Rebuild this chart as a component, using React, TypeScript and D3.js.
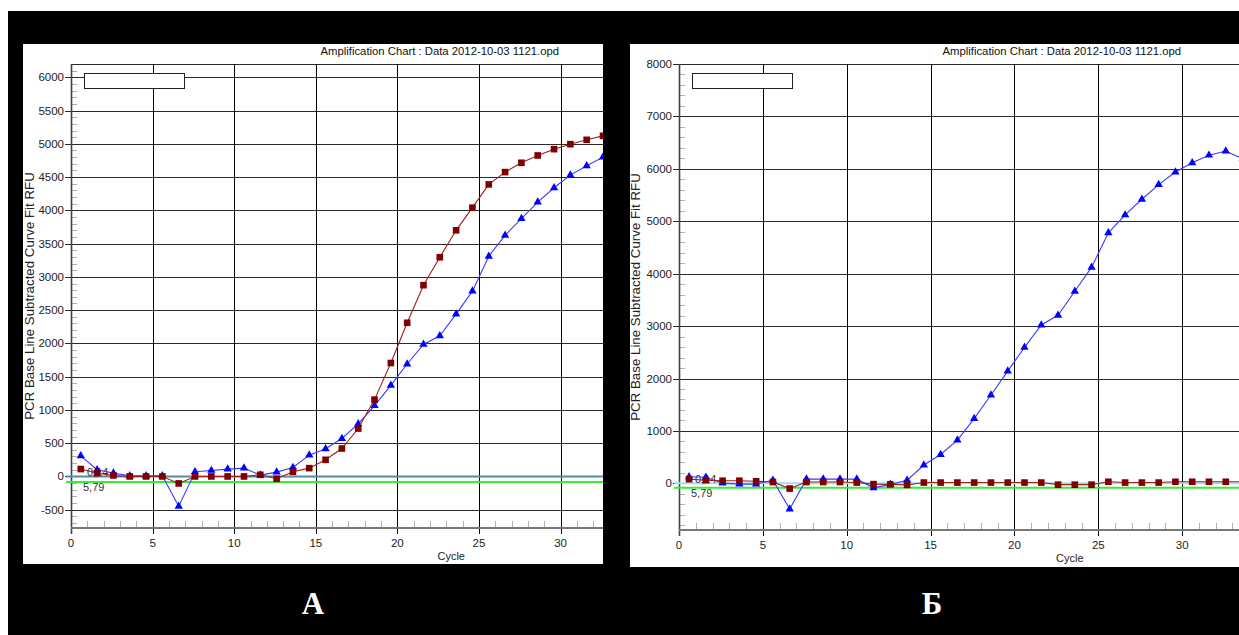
import React, { useEffect, useRef } from 'react';
import * as d3 from 'd3';

// cycle positions of the plotted readings
const cycles = [
  0.6, 1.6, 2.6, 3.6, 4.6, 5.6, 6.6, 7.6, 8.6, 9.6, 10.6, 11.6, 12.6, 13.6, 14.6, 15.6, 16.6,
  17.6, 18.6, 19.6, 20.6, 21.6, 22.6, 23.6, 24.6, 25.6, 26.6, 27.6, 28.6, 29.6, 30.6, 31.6, 32.6,
];
const cyclesB = [
  0.6, 1.6, 2.6, 3.6, 4.6, 5.6, 6.6, 7.6, 8.6, 9.6, 10.6, 11.6, 12.6, 13.6, 14.6, 15.6, 16.6,
  17.6, 18.6, 19.6, 20.6, 21.6, 22.6, 23.6, 24.6, 25.6, 26.6, 27.6, 28.6, 29.6, 30.6, 31.6, 32.6, 33.6,
];

// panel A (RFU)
const redA = [
  111, 50, 15, 0, 0, 0, -105, 0, 0, 0, 0, 25, -35, 70, 125, 250, 420, 720, 1155, 1705, 2310,
  2875, 3295, 3700, 4040, 4390, 4575, 4715, 4825, 4920, 4995, 5060, 5120,
];
const blueA = [
  310, 100, 50, 10, 10, 10, -450, 70, 90, 110, 125, 20, 65, 135, 320, 415, 570, 790, 1065, 1370,
  1690, 1985, 2115, 2440, 2785, 3310, 3625, 3875, 4125, 4340, 4530, 4670, 4800,
];

// panel B (RFU)
const redB = [
  80, 60, 50, 50, 40, 25, -100, 25, 25, 25, 15, -15, -20, -30, 15, 15, 15, 15, 15, 15, 15, 15,
  -25, -25, -25, 30, 15, 15, 15, 30, 30, 30, 30, 30,
];
const blueB = [
  125, 115, 5, -15, -15, 60, -490, 80, 80, 80, 80, -85, -20, 60, 350, 550, 825, 1235, 1685, 2140,
  2595, 3020, 3205, 3665, 4120, 4780, 5120, 5420, 5700, 5940, 6115, 6260, 6340, 6190,
];

const yTicksA = [-500, 0, 500, 1000, 1500, 2000, 2500, 3000, 3500, 4000, 4500, 5000, 5500, 6000];
const yTicksB = [0, 1000, 2000, 3000, 4000, 5000, 6000, 7000, 8000];
const xTicks = [0, 5, 10, 15, 20, 25, 30];

const threshold = -84;
const thresholdLabels = ['0,14', '5,79'];
const title = 'Amplification Chart : Data 2012-10-03 1121.opd';
const yLabel = 'PCR Base Line Subtracted Curve Fit RFU';
const xLabel = 'Cycle';

const font = '"Liberation Sans", Arial, sans-serif';

const panels = [
  {
    key: 'a',
    box: { x: 23, y: 44, w: 580, h: 520 },
    plot: { left: 71, right: 603, top: 64, bottom: 528 },
    xMax: 32.6,
    yDomain: [-775, 6200],
    yTicks: yTicksA,
    yMinor: 100,
    red: redA,
    blue: blueA,
    xs: cycles,
    zeroColor: '#4f8ea3',
    titleEnd: 559,
    yLabelX: 34,
    caption: 'А',
    captionX: 313,
  },
  {
    key: 'b',
    box: { x: 630, y: 44, w: 609, h: 523 },
    plot: { left: 679, right: 1239, top: 64, bottom: 530 },
    xMax: 33.39,
    yDomain: [-890, 8000],
    yTicks: yTicksB,
    yMinor: 200,
    red: redB,
    blue: blueB,
    xs: cyclesB,
    zeroColor: '#a8d8ea',
    titleEnd: 1181,
    yLabelX: 639.5,
    caption: 'Б',
    captionX: 932,
  },
];

function drawPanel(svg, p) {
  const { left, right, top, bottom } = p.plot;

  svg
    .append('clipPath')
    .attr('id', `clip-${p.key}`)
    .append('rect')
    .attr('x', p.box.x)
    .attr('y', p.box.y)
    .attr('width', p.box.w)
    .attr('height', p.box.h);

  const g = svg.append('g').attr('clip-path', `url(#clip-${p.key})`);

  g.append('rect')
    .attr('x', p.box.x)
    .attr('y', p.box.y)
    .attr('width', p.box.w)
    .attr('height', p.box.h)
    .attr('fill', '#fff');

  const x = d3.scaleLinear().domain([0, p.xMax]).range([left, right]);
  const y = d3.scaleLinear().domain(p.yDomain).range([bottom, top]);

  // minor y ticks
  const minorY = d3
    .range(Math.ceil(p.yDomain[0] / p.yMinor) * p.yMinor, p.yDomain[1], p.yMinor)
    .filter(v => !p.yTicks.includes(v));
  g.selectAll('.ymin')
    .data(minorY)
    .enter()
    .append('line')
    .attr('x1', left)
    .attr('x2', left + 6)
    .attr('y1', d => Math.round(y(d)) + 0.5)
    .attr('y2', d => Math.round(y(d)) + 0.5)
    .attr('stroke', '#b0b0b0');

  // minor x ticks
  const minorX = d3.range(1, Math.floor(p.xMax) + 1).filter(v => v % 5 !== 0);
  g.selectAll('.xmin')
    .data(minorX)
    .enter()
    .append('line')
    .attr('x1', d => Math.round(x(d)) + 0.5)
    .attr('x2', d => Math.round(x(d)) + 0.5)
    .attr('y1', bottom)
    .attr('y2', bottom - 7)
    .attr('stroke', '#b0b0b0');

  // horizontal grid + labels
  g.selectAll('.ygrid')
    .data(p.yTicks)
    .enter()
    .append('line')
    .attr('x1', left - 6)
    .attr('x2', right)
    .attr('y1', d => Math.round(y(d)) + 0.5)
    .attr('y2', d => Math.round(y(d)) + 0.5)
    .attr('stroke', '#2a2a2a')
    .attr('stroke-width', 1.2);

  g.selectAll('.ylab')
    .data(p.yTicks)
    .enter()
    .append('text')
    .attr('x', left - 7)
    .attr('y', d => y(d) + 4)
    .attr('text-anchor', 'end')
    .style('font', `11.5px ${font}`)
    .attr('fill', '#222')
    .text(d => d);

  // top frame
  g.append('line')
    .attr('x1', left)
    .attr('x2', right)
    .attr('y1', top + 0.5)
    .attr('y2', top + 0.5)
    .attr('stroke', '#2a2a2a')
    .attr('stroke-width', 1.2);

  // vertical grid + labels
  g.selectAll('.xgrid')
    .data(xTicks)
    .enter()
    .append('line')
    .attr('x1', d => Math.round(x(d)) + 0.5)
    .attr('x2', d => Math.round(x(d)) + 0.5)
    .attr('y1', top)
    .attr('y2', bottom + 6)
    .attr('stroke', d => (d === 0 ? '#444' : '#000'))
    .attr('stroke-width', d => (d === 0 ? 1.6 : 1));

  g.selectAll('.xlab')
    .data(xTicks)
    .enter()
    .append('text')
    .attr('x', d => x(d))
    .attr('y', bottom + 19)
    .attr('text-anchor', 'middle')
    .style('font', `11.5px ${font}`)
    .attr('fill', '#222')
    .text(d => d);

  // bottom axis line
  g.append('line')
    .attr('x1', left)
    .attr('x2', right)
    .attr('y1', bottom)
    .attr('y2', bottom)
    .attr('stroke', '#777')
    .attr('stroke-width', 2);

  // axis titles
  g.append('text')
    .attr('x', x(23.3))
    .attr('y', bottom + 32)
    .attr('text-anchor', 'middle')
    .style('font', `11px ${font}`)
    .attr('fill', '#222')
    .text(xLabel);

  g.append('text')
    .attr('transform', `translate(${p.yLabelX},${(top + bottom) / 2}) rotate(-90)`)
    .attr('text-anchor', 'middle')
    .style('font', `13.3px ${font}`)
    .attr('fill', '#222')
    .text(yLabel);

  g.append('text')
    .attr('x', p.titleEnd)
    .attr('y', 55)
    .attr('text-anchor', 'end')
    .style('font', `11.3px ${font}`)
    .attr('fill', '#111')
    .text(title);

  // empty legend box
  g.append('rect')
    .attr('x', left + 13.5)
    .attr('y', 73.5)
    .attr('width', 100)
    .attr('height', 15)
    .attr('fill', '#fff')
    .attr('stroke', '#222');

  // threshold lines
  g.append('line')
    .attr('x1', left - 5)
    .attr('x2', right)
    .attr('y1', y(0))
    .attr('y2', y(0))
    .attr('stroke', p.zeroColor)
    .attr('stroke-width', 2);

  g.append('line')
    .attr('x1', left - 5)
    .attr('x2', right)
    .attr('y1', y(threshold))
    .attr('y2', y(threshold))
    .attr('stroke', '#33ee33')
    .attr('stroke-width', 2);

  g.append('text')
    .attr('x', left + 16)
    .attr('y', y(0))
    .style('font', `11px ${font}`)
    .attr('fill', '#333')
    .text(thresholdLabels[0]);

  g.append('text')
    .attr('x', left + 12)
    .attr('y', y(threshold) + 9)
    .style('font', `11px ${font}`)
    .attr('fill', '#333')
    .text(thresholdLabels[1]);

  // series
  const series = [
    { values: p.blue, line: '#3a3aff', fill: '#0000ff', shape: d3.symbolTriangle, size: 30 },
    { values: p.red, line: '#9a2020', fill: '#800000', shape: d3.symbolSquare, size: 44 },
  ];

  series.forEach(s => {
    const pts = s.values.map((v, i) => [p.xs[i], v]);
    const line = d3
      .line()
      .x(d => x(d[0]))
      .y(d => y(d[1]));

    g.append('path')
      .attr('d', line(pts))
      .attr('fill', 'none')
      .attr('stroke', s.line)
      .attr('stroke-width', 1.1);

    g.selectAll(null)
      .data(pts)
      .enter()
      .append('path')
      .attr('d', d3.symbol().type(s.shape).size(s.size)())
      .attr('transform', d => `translate(${x(d[0])},${y(d[1])})`)
      .attr('fill', s.fill);
  });

  // caption under the panel
  svg
    .append('text')
    .attr('x', p.captionX)
    .attr('y', 614)
    .attr('text-anchor', 'middle')
    .style('font', `bold 31px "Liberation Serif", "Times New Roman", serif`)
    .attr('fill', '#fff')
    .text(p.caption);
}

export default function App() {
  const ref = useRef(null);

  useEffect(() => {
    const svg = d3.select(ref.current);
    svg.selectAll('*').remove();

    svg.append('rect').attr('width', 1239).attr('height', 635).attr('fill', '#fff');
    svg.append('rect').attr('x', 8).attr('y', 11).attr('width', 1231).attr('height', 624).attr('fill', '#000');

    panels.forEach(p => drawPanel(svg, p));
  }, []);

  return (
    <svg
      ref={ref}
      width={1239}
      height={635}
      style={{ position: 'absolute', left: 0, top: 0, display: 'block' }}
    />
  );
}
